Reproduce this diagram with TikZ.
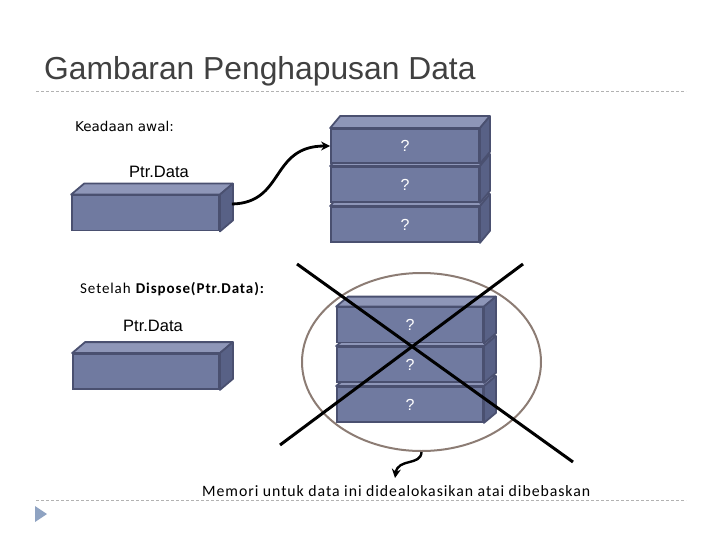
\documentclass[tikz,border=0pt]{standalone}
\usepackage{fontspec}
\setmainfont{Liberation Sans}
\newfontfamily\calib[LetterSpace=6]{Carlito}
\newfontfamily\dejavu{DejaVu Sans}
\usetikzlibrary{calc,shapes.geometric,arrows.meta}
\definecolor{frontc}{RGB}{112,122,160}
\definecolor{topc}{RGB}{142,150,184}
\definecolor{sidec}{RGB}{88,97,134}
\definecolor{edgec}{RGB}{74,80,112}
\definecolor{ellc}{RGB}{140,124,116}
\definecolor{dashc}{RGB}{178,178,178}
\definecolor{titlec}{RGB}{64,64,64}
\definecolor{bulletc}{RGB}{143,163,194}
\tikzset{
  frontface/.style={draw=edgec, fill=frontc, line width=1.8pt, inner sep=0pt, text=white, font=\fontsize{16}{18}\selectfont},
  topface/.style={draw=edgec, fill=topc, line width=1.8pt, line join=round},
  sideface/.style={draw=edgec, fill=sidec, line width=1.8pt, line join=round},
  sepline/.style={draw=dashc, line width=0.8pt, dash pattern=on 3pt off 2pt},
  txt/.style={inner sep=0pt, anchor=base west},
  ptrlabel/.style={inner sep=0pt, anchor=base, font=\fontsize{16.5}{20}\selectfont},
  crossline/.style={draw=black, line width=3pt},
  curvearrow/.style={draw=black, line width=2.8pt, -{Stealth[length=9pt,width=9pt]}},
}
\newcommand\blok[8]{%
  \node[frontface, minimum width=#4pt, minimum height=#5pt] (#1) at (#2,#3) {#8};
  \path[topface] (#1.north west) -- ++(#6,#7) -- ($(#1.north east)+(#6,#7)$) -- (#1.north east) -- cycle;
  \path[sideface] (#1.north east) -- ++(#6,#7) -- ($(#1.south east)+(#6,#7)$) -- (#1.south east) -- cycle;
}
\begin{document}
\begin{tikzpicture}[x=1pt,y=-1pt]
\useasboundingbox (0,0) rectangle (720,540);
% title and separators
\node[txt, text=titlec, font=\fontsize{31.8}{36}\selectfont] (title) at (44,80) {Gambaran Penghapusan Data};
\path[sepline] (36,91) -- (686,91);
\path[sepline] (36,500) -- (686,500);
\fill[bulletc] (35,506) -- (35,522) -- (47,514) -- cycle;
% initial state
\node[txt, font=\dejavu\fontsize{13.5}{16}\selectfont] (keadaan) at (75,132) {Keadaan awal:};
\node[ptrlabel] (lbl1) at (159,178) {Ptr.Data};
\blok{pa}{145.5}{213}{147}{35}{13}{-11}{}
\blok{t3}{405}{224.5}{148}{35}{10}{-12}{?}
\blok{t2}{405}{184.5}{148}{35}{10}{-12}{?}
\blok{t1}{405}{146}{148}{34}{10}{-12}{?}
\coordinate (pastart) at ($(pa.east)+(12,-9)$);
\draw[curvearrow] (pastart) .. controls (285,203) and (270,146) .. (t1.west);
% after dispose
\node[txt, font=\calib\fontsize{15}{18}\selectfont] (setelah) at (80,293) {Setelah \textbf{Dispose(Ptr.Data):}};
\node[ptrlabel] (lbl2) at (153,331) {Ptr.Data};
\blok{pb}{146}{371.5}{146}{35}{13}{-11}{}
\node[ellipse, draw=ellc, line width=2pt, minimum width=239pt, minimum height=178pt, inner sep=0pt] (ell) at (421.5,362) {};
\blok{b3}{410}{404.5}{146}{35}{12}{-10}{?}
\blok{b2}{410}{364.5}{146}{35}{12}{-10}{?}
\blok{b1}{410}{325}{146}{35}{12}{-10}{?}
\draw[crossline] (297,264) -- (573,462);
\draw[crossline] (523,264) -- (280,445);
\node[txt, font=\calib\fontsize{15.8}{18}\selectfont] (memori) at (202,496) {Memori untuk data ini didealokasikan atai dibebaskan};
\draw[curvearrow, line width=2.4pt] (ell.south) .. controls (421,466) and (398,458) .. (395,478);
\end{tikzpicture}
\end{document}
